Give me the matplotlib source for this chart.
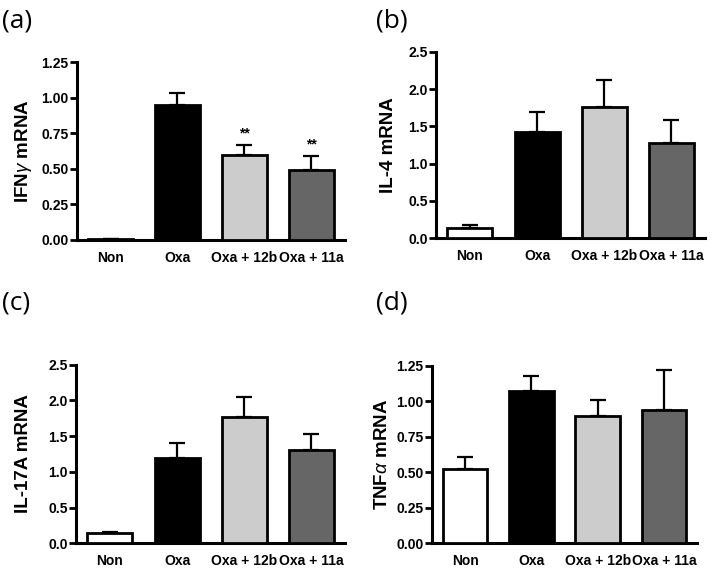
import numpy as np
import matplotlib
matplotlib.use('Agg')
import matplotlib.pyplot as plt

plt.rcParams['font.family'] = ['Liberation Sans', 'DejaVu Sans']
plt.rcParams['mathtext.fontset'] = 'custom'
plt.rcParams['mathtext.rm'] = 'Liberation Sans'
plt.rcParams['mathtext.it'] = 'Liberation Sans:italic'

# data
groups = ['Non', 'Oxa', 'Oxa + 12b', 'Oxa + 11a']
colors = ['white', 'black', '#cccccc', '#666666']

ifng_mean = [0.005, 0.95, 0.60, 0.495]
ifng_err = [0.0, 0.085, 0.07, 0.095]
il4_mean = [0.14, 1.43, 1.76, 1.28]
il4_err = [0.035, 0.27, 0.36, 0.30]
il17_mean = [0.14, 1.19, 1.77, 1.30]
il17_err = [0.02, 0.21, 0.28, 0.23]
tnfa_mean = [0.52, 1.07, 0.90, 0.94]
tnfa_err = [0.09, 0.11, 0.11, 0.28]

panels = [
    ('(a)', r'IFN$\gamma$ mRNA', ifng_mean, ifng_err, 1.25, [0, 0.25, 0.5, 0.75, 1.0, 1.25], '%.2f',
     [0.107, 0.579, 0.372, 0.312], (0.003, 0.985), ['', '', '**', '**'], -0.162),
    ('(b)', 'IL-4 mRNA', il4_mean, il4_err, 2.5, [0, 0.5, 1.0, 1.5, 2.0, 2.5], '%.1f',
     [0.606, 0.582, 0.373, 0.327], (0.522, 0.985), ['', '', '', ''], -0.146),
    ('(c)', 'IL-17A mRNA', il17_mean, il17_err, 2.5, [0, 0.5, 1.0, 1.5, 2.0, 2.5], '%.1f',
     [0.106, 0.047, 0.373, 0.313], (0.003, 0.49), ['', '', '', ''], -0.165),
    ('(d)', r'TNF$\alpha$ mRNA', tnfa_mean, tnfa_err, 1.25, [0, 0.25, 0.5, 0.75, 1.0, 1.25], '%.2f',
     [0.600, 0.047, 0.368, 0.311], (0.522, 0.49), ['', '', '', ''], -0.156),
]

fig = plt.figure(figsize=(7.2, 5.7), dpi=100)

for tag, ylab, mean, err, ymax, yt, fmt, pos, tagpos, stars, labx in panels:
    ax = fig.add_axes(pos)
    x = np.arange(len(groups))
    ax.bar(x, mean, width=0.67, color=colors, edgecolor='black', linewidth=2.0, zorder=3)
    ax.errorbar(x, mean, yerr=[np.zeros(len(err)), err], fmt='none', ecolor='black',
                elinewidth=1.6, capsize=6, capthick=1.6, zorder=2)
    for xi, m, e, s in zip(x, mean, err, stars):
        if s:
            ax.text(xi, m + e + 0.03, s, ha='center', va='bottom', fontsize=10, fontweight='bold')
    ax.set_xlim(-0.5, 3.5)
    ax.set_ylim(0, ymax)
    ax.set_yticks(yt)
    ax.set_yticklabels([fmt % v for v in yt], fontsize=10, fontweight='bold')
    ax.set_xticks(x)
    ax.set_xticklabels(groups, fontsize=10, fontweight='bold')
    ax.tick_params(axis='x', length=0, pad=8)
    ax.tick_params(axis='y', length=5, width=2, pad=1)
    for side in ['top', 'right']:
        ax.spines[side].set_visible(False)
    for side in ['left', 'bottom']:
        ax.spines[side].set_linewidth(2.2)
    ax.set_ylabel(ylab, fontsize=13.5, fontweight='bold')
    ax.yaxis.set_label_coords(labx, 0.5)
    fig.text(tagpos[0], tagpos[1], tag, fontsize=19, family='Open Sans', va='top', ha='left')

fig.savefig('out.png', dpi=100)
